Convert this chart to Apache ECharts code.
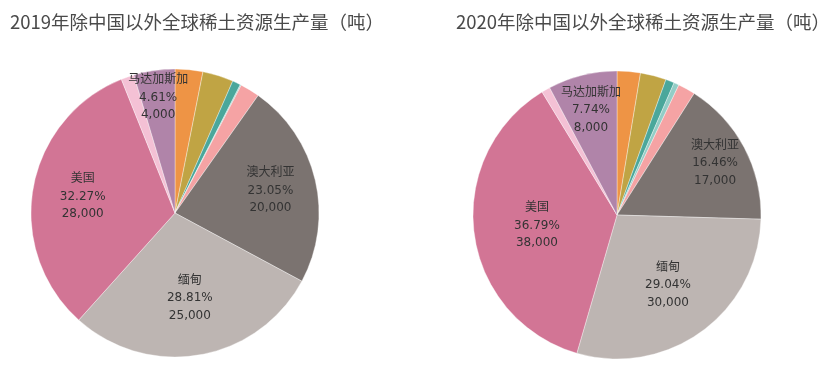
<!DOCTYPE html>
<html>
<head>
<meta charset="utf-8">
<script src="https://cdn.jsdelivr.net/npm/echarts@6/dist/echarts.min.js"></script>
<style>
  html, body { margin: 0; padding: 0; background: #fff; }
  #chart { width: 832px; height: 376px; }
</style>
</head>
<body>
<div id="chart"></div>
<script>
  // 国家（饼图从12点方向顺时针）
  const countries = ['俄罗斯', '印度', '巴西', '越南', '泰国', '澳大利亚', '缅甸', '美国', '其他', '马达加斯加'];
  const output2019 = [2700, 3000, 800, 100, 1900, 20000, 25000, 28000, 1270, 4000];
  const output2020 = [2700, 3000, 1000, 600, 2000, 17000, 30000, 38000, 1000, 8000];
  const titles = ['2019年除中国以外全球稀土资源生产量（吨）', '2020年除中国以外全球稀土资源生产量（吨）'];
  const labeled = ['澳大利亚', '缅甸', '美国', '马达加斯加'];

  const colors = ['#ee9445', '#c0a444', '#4aa79b', '#93cdc6', '#f5a3a4',
                  '#7b7370', '#bdb5b2', '#d27595', '#f4c1d5', '#b084a9'];

  // 标签离圆心的位置（占半径比例）
  const labelPos2019 = { '澳大利亚': 0.66, '缅甸': 0.58, '美国': 0.63, '马达加斯加': 0.79 };
  const labelPos2020 = { '澳大利亚': 0.75, '缅甸': 0.58, '美国': 0.54, '马达加斯加': 0.73 };

  const pieR = 144;

  function toData(values) {
    return countries.map((c, i) => ({ name: c, value: values[i] }));
  }

  function fmt(p) {
    return p.name + '\n' + p.percent.toFixed(2) + '%\n' + p.value.toLocaleString('en-US');
  }

  function mainPie(values, center) {
    return {
      type: 'pie',
      center: center,
      radius: [0, pieR],
      startAngle: 90,
      clockwise: true,
      silent: true,
      label: { show: false },
      labelLine: { show: false },
      itemStyle: { borderColor: 'rgba(255,255,255,0.6)', borderWidth: 0.6 },
      data: toData(values).map((d, i) => ({ ...d, itemStyle: { color: colors[i] } }))
    };
  }

  // 只画标签的透明饼图
  function labelPie(values, center, name, frac) {
    return {
      type: 'pie',
      center: center,
      radius: [(2 * frac - 1) * pieR, pieR],
      startAngle: 90,
      clockwise: true,
      silent: true,
      labelLine: { show: false },
      itemStyle: { color: 'rgba(0,0,0,0)' },
      label: { show: false },
      data: toData(values).map(d => ({
        ...d,
        label: {
          show: d.name === name,
          position: 'inside',
          formatter: fmt,
          color: '#333',
          fontSize: 12,
          lineHeight: 17.5,
          fontFamily: '"DejaVu Sans", "Noto Sans CJK SC", sans-serif'
        }
      }))
    };
  }

  const c1 = [175, 213];
  const c2 = [617, 215];
  const series = [mainPie(output2019, c1), mainPie(output2020, c2)];
  labeled.forEach(n => {
    series.push(labelPie(output2019, c1, n, labelPos2019[n]));
    series.push(labelPie(output2020, c2, n, labelPos2020[n]));
  });

  const myChart = echarts.init(document.getElementById('chart'));
  myChart.setOption({
    backgroundColor: '#fff',
    animation: false,
    title: [
      { text: titles[0], left: 5, top: 8,
        textStyle: { fontSize: 18.5, fontWeight: 'normal', color: '#4a4a4a', fontFamily: 'Noto Sans CJK SC' } },
      { text: titles[1], left: 451, top: 8,
        textStyle: { fontSize: 18.5, fontWeight: 'normal', color: '#4a4a4a', fontFamily: 'Noto Sans CJK SC' } }
    ],
    series: series
  });
</script>
</body>
</html>
